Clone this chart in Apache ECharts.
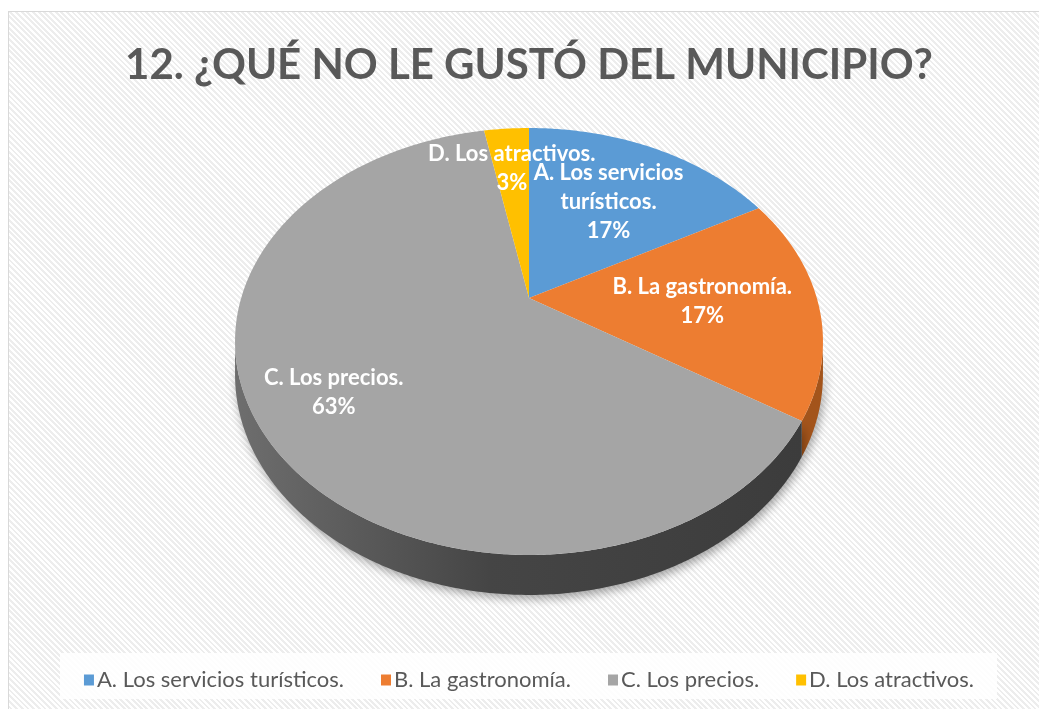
<!DOCTYPE html>
<html>
<head>
<meta charset="utf-8">
<script src="https://cdn.jsdelivr.net/npm/echarts@6/dist/echarts.min.js"></script>
<style>
    html, body { margin: 0; padding: 0; width: 1039px; height: 709px; overflow: hidden; background: #fff; }
    #chart {
        position: absolute; left: 8px; top: 11px; width: 1042px; height: 710px;
        box-shadow: inset 1px 1px 0 #d9d9d9;
        background: repeating-linear-gradient(45deg, #ffffff 0 2px, #ededed 2px 4px);
    }
</style>
</head>
<body>
<div id="chart"></div>
<script>
const categories = ['A. Los servicios turísticos.', 'B. La gastronomía.', 'C. Los precios.', 'D. Los atractivos.'];
const sliceLabels = ['A. Los servicios\nturísticos.', 'B. La gastronomía.', 'C. Los precios.', 'D. Los atractivos.'];
const percentValues = [17, 17, 63, 3];
const topColors = ['#5b9bd5', '#ed7d31', '#a5a5a5', '#ffc000'];
const sideColors = ['#3a6f9e', '#a3541b', '#434343', '#b38700'];

// pie layout (tilted disc with perspective)
const CX = 521, CY = 287, RX = 287.8, RY = 204.6, K = 0.2037, DEPTH = 31.85;
const labelRadius = [0.6, 0.6, 0.75, 0.73];
const FONT = 'Lato, "Open Sans", sans-serif';

const total = percentValues.reduce((a, b) => a + b, 0);
const starts = [];
let acc = 0;
percentValues.forEach(v => { starts.push(acc / total * Math.PI * 2); acc += v; });

function project(theta, r) {
    const u = r * Math.sin(theta), v = -r * Math.cos(theta);
    const d = 1 - K * v;
    return [CX + RX * u / d, CY + RY * v / d, d];
}

function arc(a0, a1, r) {
    const pts = [];
    const n = Math.max(2, Math.ceil((a1 - a0) / 0.01));
    for (let j = 0; j <= n; j++) pts.push(project(a0 + (a1 - a0) * j / n, r));
    return pts;
}

const sideFrom = Math.acos(-K), sideTo = Math.PI * 2 - Math.acos(-K);

function renderSlice(i) {
    return function (params, api) {
        const a0 = starts[i];
        const a1 = a0 + percentValues[i] / total * Math.PI * 2;
        const children = [];

        // visible side wall
        const s = Math.max(a0, sideFrom), e = Math.min(a1, sideTo);
        if (e > s) {
            const top = arc(s, e, 1);
            const bottom = top.map(p => [p[0], p[1] + DEPTH / p[2]]).reverse();
            const fill = i === 2
                ? new echarts.graphic.LinearGradient(0, 0, 1, 0, [
                    { offset: 0, color: '#6e6e6e' },
                    { offset: 0.45, color: '#454545' },
                    { offset: 1, color: '#3c3c3c' }
                ])
                : sideColors[i];
            children.push({
                type: 'polygon',
                z2: 1,
                shape: { points: top.map(p => [p[0], p[1]]).concat(bottom) },
                style: {
                    fill: fill,
                    shadowBlur: 10,
                    shadowOffsetX: 2,
                    shadowOffsetY: 4,
                    shadowColor: 'rgba(0,0,0,0.35)'
                }
            });
        }

        // top face
        const c = project(0, 0);
        const face = [[c[0], c[1]]].concat(arc(a0, a1, 1).map(p => [p[0], p[1]]));
        children.push({
            type: 'polygon',
            z2: 5,
            shape: { points: face },
            style: { fill: topColors[i] }
        });

        // label
        const mid = (a0 + a1) / 2;
        const lp = project(mid, labelRadius[i]);
        children.push({
            type: 'text',
            z2: 10,
            x: lp[0],
            y: lp[1],
            style: {
                text: sliceLabels[i] + '\n' + Math.round(percentValues[i] / total * 100) + '%',
                fill: '#ffffff',
                font: 'bold 22px ' + FONT,
                lineHeight: 29,
                align: 'center',
                verticalAlign: 'middle'
            }
        });

        return { type: 'group', children: children };
    };
}

const chart = echarts.init(document.getElementById('chart'), null, { renderer: 'canvas' });

const option = {
    backgroundColor: 'transparent',
    animation: false,
    title: {
        text: '12. ¿QUÉ NO LE GUSTÓ DEL MUNICIPIO?',
        left: 'center',
        top: 28,
        textStyle: {
            fontFamily: FONT,
            fontSize: 42,
            fontWeight: 'bold',
            color: '#595959'
        }
    },
    graphic: [{
        type: 'rect',
        left: 52,
        top: 642,
        shape: { width: 937, height: 46 },
        style: { fill: 'rgba(255,255,255,0.85)' },
        silent: true,
        z: 0
    }],
    legend: {
        data: categories,
        left: 'center',
        top: 653,
        icon: 'rect',
        itemWidth: 10,
        itemHeight: 11,
        itemGap: 37,
        textStyle: {
            fontFamily: FONT,
            fontSize: 22,
            color: '#595959',
            padding: [0, 0, 0, -2]
        }
    },
    series: categories.map((name, i) => ({
        type: 'custom',
        name: name,
        coordinateSystem: 'none',
        itemStyle: { color: topColors[i] },
        data: [[percentValues[i]]],
        renderItem: renderSlice(i),
        z: 2
    }))
};

chart.setOption(option);
</script>
</body>
</html>
